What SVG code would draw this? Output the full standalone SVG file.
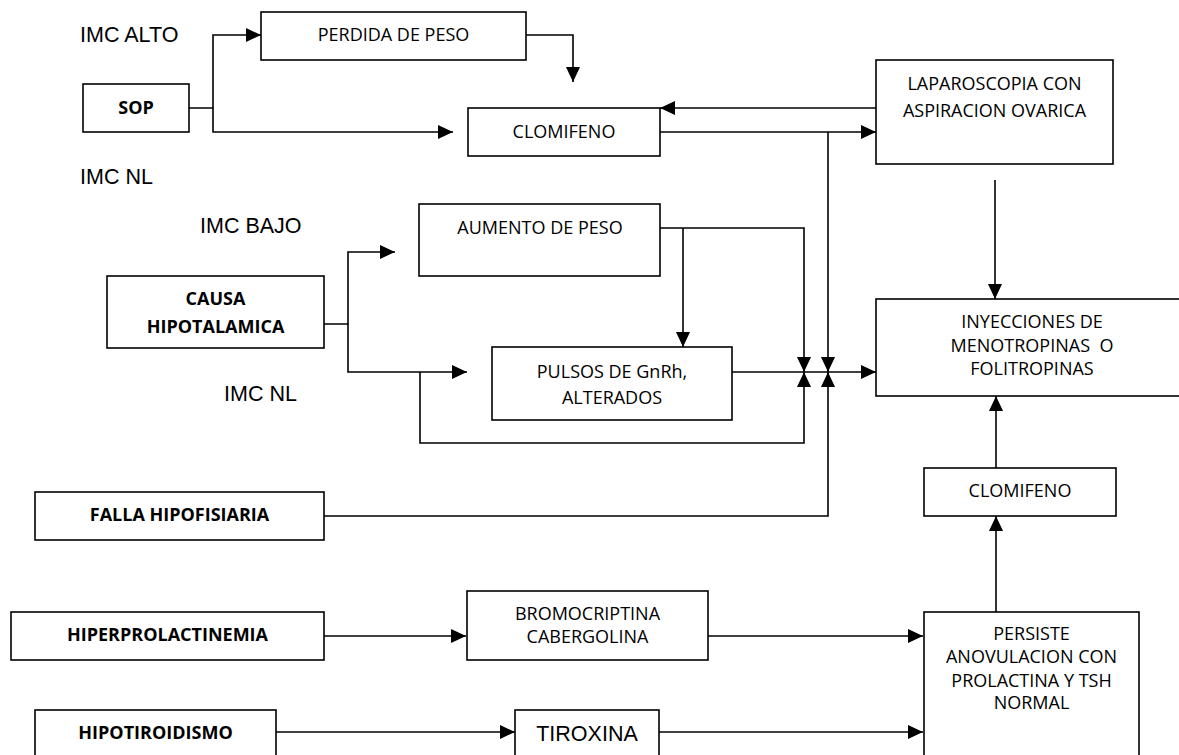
<svg xmlns="http://www.w3.org/2000/svg" width="1179" height="755" viewBox="0 0 1179 755">
<style>
.box{fill:#fff;stroke:#000;stroke-width:1.6}
.t{font-family:"Open Sans","Noto Sans",sans-serif;font-size:18px;fill:#000;text-anchor:middle;white-space:pre}
.b{font-weight:bold}
.a{font-family:"Liberation Sans",Arial,sans-serif;font-size:21.5px;fill:#000}
.c{fill:none;stroke:#000;stroke-width:1.6;marker-end:url(#ah)}
</style>
<defs>
<marker id="ah" markerUnits="userSpaceOnUse" markerWidth="15" markerHeight="14" refX="15" refY="7" orient="auto">
<path d="M0,0 L15,7 L0,14 z" fill="#000"/>
</marker>
</defs>
<rect width="1179" height="755" fill="#fff"/>
<g id="labels">
<text class="a" x="80" y="42">IMC ALTO</text>
<text class="a" x="80" y="184">IMC NL</text>
<text class="a" x="200" y="233">IMC BAJO</text>
<text class="a" x="224" y="401">IMC NL</text>
</g>
<g id="connectors">
<path class="c" d="M189,108 H213 V35 H261"/>
<path class="c" d="M213,108 V132 H453"/>
<path class="c" d="M526,35 H573 V82"/>
<path class="c" d="M876,108 H660"/>
<path class="c" d="M660,132 H876"/>
<path class="c" d="M828,132 V372"/>
<path class="c" d="M995,180 V299"/>
<path class="c" d="M324,324 H348 V252 H395"/>
<path class="c" d="M348,324 V372 H467"/>
<path class="c" d="M420,372 V443 H804 V372"/>
<path class="c" d="M660,228 H804 V372"/>
<path class="c" d="M683,228 V347"/>
<path class="c" d="M732,372 H876"/>
<path class="c" d="M324,516 H828 V372"/>
<path class="c" d="M324,636 H466"/>
<path class="c" d="M708,636 H923"/>
<path class="c" d="M276,732 H515"/>
<path class="c" d="M659,732 H923"/>
<path class="c" d="M996,612 V516"/>
<path class="c" d="M996,468 V396"/>
</g>
<g id="sop">
<rect class="box" x="83" y="84" width="106" height="48"/>
<text class="t b" x="136" y="114">SOP</text>
</g>
<g id="perdida">
<rect class="box" x="261" y="12" width="265" height="48"/>
<text class="t" x="393.5" y="41">PERDIDA DE PESO</text>
</g>
<g id="clomifeno1">
<rect class="box" x="468" y="108" width="192" height="48"/>
<text class="t" x="564" y="138">CLOMIFENO</text>
</g>
<g id="laparoscopia">
<rect class="box" x="876" y="60" width="237" height="104"/>
<text class="t" x="994.5" y="90">LAPAROSCOPIA CON</text>
<text class="t" x="994.5" y="117">ASPIRACION OVARICA</text>
</g>
<g id="aumento">
<rect class="box" x="419" y="204" width="241" height="72"/>
<text class="t" x="540" y="234">AUMENTO DE PESO</text>
</g>
<g id="causa">
<rect class="box" x="107" y="276" width="217" height="72"/>
<text class="t b" x="215.5" y="305">CAUSA</text>
<text class="t b" x="215.5" y="333">HIPOTALAMICA</text>
</g>
<g id="pulsos">
<rect class="box" x="492" y="347" width="240" height="73"/>
<text class="t" x="612" y="378">PULSOS DE GnRh,</text>
<text class="t" x="612" y="404">ALTERADOS</text>
</g>
<g id="inyecciones">
<rect class="box" x="876" y="299" width="320" height="97"/>
<text class="t" x="1032" y="328">INYECCIONES DE</text>
<text class="t" x="1032" y="352">MENOTROPINAS  O</text>
<text class="t" x="1032" y="375">FOLITROPINAS</text>
</g>
<g id="falla">
<rect class="box" x="35" y="492" width="289" height="48"/>
<text class="t b" x="179.5" y="521">FALLA HIPOFISIARIA</text>
</g>
<g id="clomifeno2">
<rect class="box" x="924" y="468" width="192" height="48"/>
<text class="t" x="1020" y="497">CLOMIFENO</text>
</g>
<g id="hiperprolactinemia">
<rect class="box" x="11" y="612" width="313" height="48"/>
<text class="t b" x="167.5" y="641">HIPERPROLACTINEMIA</text>
</g>
<g id="bromocriptina">
<rect class="box" x="467" y="591" width="241" height="69"/>
<text class="t" x="587.5" y="620">BROMOCRIPTINA</text>
<text class="t" x="587.5" y="643">CABERGOLINA</text>
</g>
<g id="persiste">
<rect class="box" x="924" y="612" width="215" height="160"/>
<text class="t" x="1031.5" y="640">PERSISTE</text>
<text class="t" x="1031.5" y="663">ANOVULACION CON</text>
<text class="t" x="1031.5" y="687">PROLACTINA Y TSH</text>
<text class="t" x="1031.5" y="709">NORMAL</text>
</g>
<g id="hipotiroidismo">
<rect class="box" x="35" y="710" width="241" height="60"/>
<text class="t b" x="155.5" y="739">HIPOTIROIDISMO</text>
</g>
<g id="tiroxina">
<rect class="box" x="515" y="710" width="144" height="60"/>
<text class="a" x="587" y="741" text-anchor="middle">TIROXINA</text>
</g>
</svg>
